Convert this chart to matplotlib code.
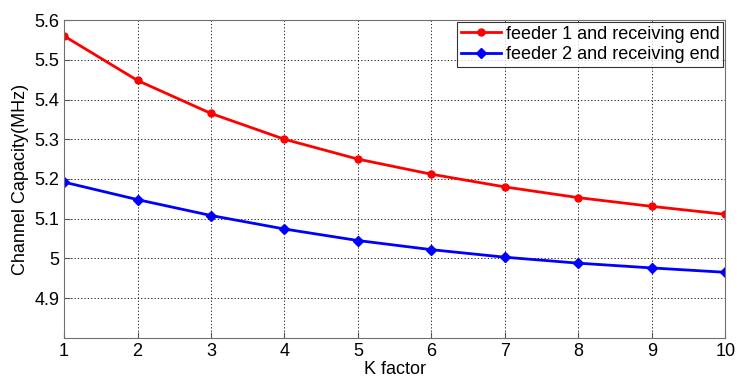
import matplotlib
matplotlib.use("Agg")
import matplotlib.pyplot as plt

plt.rcParams['font.family'] = ['Liberation Sans', 'DejaVu Sans']

# K factor values
k = [1, 2, 3, 4, 5, 6, 7, 8, 9, 10]

# channel capacity (MHz)
feeder1 = [5.560, 5.448, 5.365, 5.300, 5.250, 5.212, 5.180, 5.153, 5.131, 5.111]
feeder2 = [5.192, 5.148, 5.108, 5.074, 5.045, 5.022, 5.003, 4.988, 4.976, 4.965]

fig = plt.figure(figsize=(7.37, 3.8), dpi=100)
ax = fig.add_axes([0.087, 0.111, 0.897, 0.836])

ax.plot(k, feeder1, color='red', lw=2, marker='o', ms=5, label='feeder 1 and receiving end')
ax.plot(k, feeder2, color='blue', lw=2, marker='D', ms=5, label='feeder 2 and receiving end')

ax.set_xlim(1, 10)
ax.set_ylim(4.8, 5.6)
ax.set_xticks(k)
ax.set_xticklabels([str(v) for v in k])
yt = [4.9, 5.0, 5.1, 5.2, 5.3, 5.4, 5.5, 5.6]
ax.set_yticks(yt)
ax.set_yticklabels(['4.9', '5', '5.1', '5.2', '5.3', '5.4', '5.5', '5.6'])
ax.tick_params(direction='in', labelsize=13, length=4, color='#555555')
ax.grid(True, color='black', linestyle=(0, (1.5, 2.5)), linewidth=0.6)
for s in ax.spines.values():
    s.set_color('#707070')

ax.set_xlabel('K factor', fontsize=13, labelpad=1)
ax.set_ylabel('Channel Capacity(MHz)', fontsize=13, labelpad=4)

leg = ax.legend(loc='upper right', fontsize=13, frameon=True, fancybox=False,
                borderpad=0.2, handlelength=2.2, handletextpad=0.3,
                labelspacing=0.2, borderaxespad=0.1)
leg.get_frame().set_edgecolor('black')
leg.get_frame().set_linewidth(0.8)

fig.savefig('out.png', dpi=100)
